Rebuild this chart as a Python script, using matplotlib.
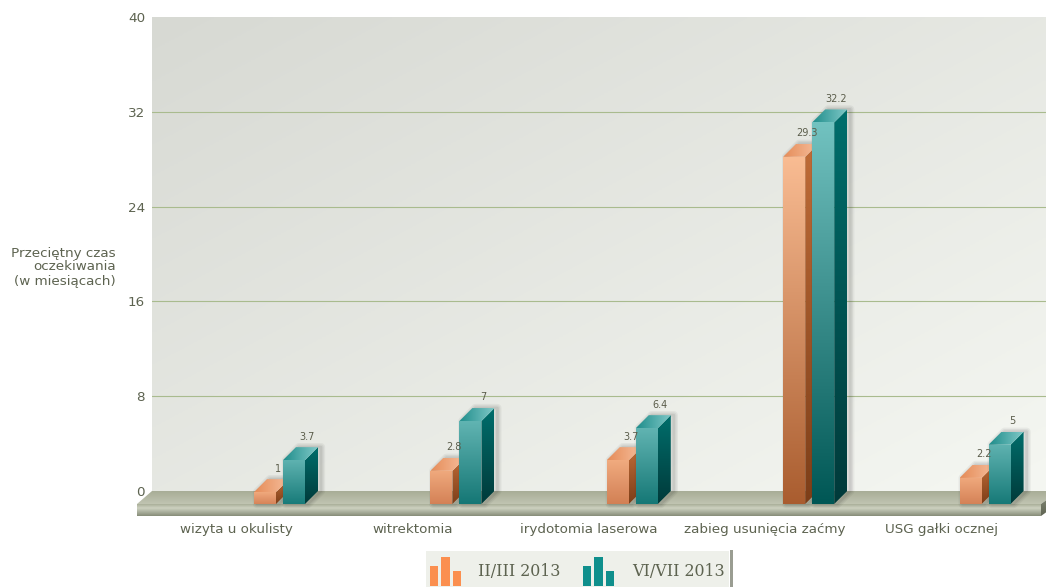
import numpy as np
import matplotlib
matplotlib.use("Agg")
import matplotlib.pyplot as plt
from matplotlib.colors import to_rgb
from matplotlib.legend_handler import HandlerBase
from matplotlib.patches import Polygon, Rectangle

categories = ["wizyta u okulisty", "witrektomia", "irydotomia laserowa",
              "zabieg usunięcia zaćmy", "USG gałki ocznej"]
series_a = [1, 2.8, 3.7, 29.3, 2.2]
series_b = [3.7, 7, 6.4, 32.2, 5]
series_names = ["II/III 2013", "VI/VII 2013"]
y_ticks = [0, 8, 16, 24, 32, 40]
y_title = "Przeciętny czas\noczekiwania\n(w miesiącach)"

W, H = 1046, 587
TEXT = "#5d6350"
LEFT, RIGHT, TOP, BASE = 152, 1046, 17, 491
SLOT = 176.4
PX_Y = (BASE - TOP) / 40.0
PX_X = SLOT
DEPTH_X = 13 / PX_X
DEPTH_Y = 13 / PX_Y
BAR_W = 22 / PX_X
OFFSET_A = 31 / PX_X
OFFSET_B = 60 / PX_X

ORANGE = dict(front_small=("#efa87c", "#d8855a"), front_tall=("#fabe95", "#a5592b"),
              side=("#bf6c38", "#7d3e18"), top=("#e58c58", "#f6bd9b"), legend="#fb8f4f")
TEAL = dict(front_small=("#5cb0ae", "#1b807e"), front_tall=("#72c2c0", "#005755"),
            side=("#006e6c", "#003a3a"), top=("#1f8d8b", "#80c9c8"), legend="#0f8f8c")

fig = plt.figure(figsize=(W / 100, H / 100), dpi=100, facecolor="white")
ax = fig.add_axes([LEFT / W, 1 - BASE / H, (RIGHT - LEFT) / W, (BASE - TOP) / H])
ax.set_autoscale_on(False)
x_min = (LEFT - 236) / PX_X
x_max = (RIGHT - 236) / PX_X
ax.set_xlim(x_min, x_max)
ax.set_ylim(0, 40)
for spine in ax.spines.values():
    spine.set_visible(False)


def lerp(c1, c2, t):
    a, b = np.array(to_rgb(c1)), np.array(to_rgb(c2))
    return a + (b - a) * t


def gradient(xy, c1, c2, zorder, horizontal=False):
    """Fill a polygon in data coordinates with a two-colour linear ramp."""
    xy = np.asarray(xy, dtype=float)
    t = np.linspace(0, 1, 128)
    ramp = np.array([lerp(c1, c2, v) for v in t])
    img = ramp[None, :, :] if horizontal else ramp[:, None, :]
    ext = (xy[:, 0].min(), xy[:, 0].max(), xy[:, 1].min(), xy[:, 1].max())
    im = ax.imshow(img, extent=ext, origin="upper", aspect="auto",
                   interpolation="bilinear", zorder=zorder)
    im.set_clip_path(Polygon(xy, closed=True, transform=ax.transData))
    im.set_clip_box(fig.bbox)
    return im


# Back wall with a diagonal light ramp
u, v = np.meshgrid(np.linspace(0, 1, 200), np.linspace(0, 1, 200))
mix = ((u + v) / 2)[..., None]
wall = to_rgb("#d7d9d3") + (np.array(to_rgb("#f5f7f2")) - np.array(to_rgb("#d7d9d3"))) * mix
ax.imshow(wall, extent=(x_min, x_max, 0, 40), origin="upper", aspect="auto", zorder=0)

ax.set_yticks(y_ticks)
ax.set_xticks(range(len(categories)))
ax.set_xticklabels(categories)
ax.tick_params(axis="y", length=0, pad=5, labelsize=9.7, labelcolor=TEXT)
ax.tick_params(axis="x", length=0, pad=23, labelsize=9.7, labelcolor=TEXT)
ax.yaxis.grid(True, color="#a9bb8e", linewidth=0.8)
ax.set_axisbelow(False)
for value, line in zip(y_ticks, ax.get_ygridlines()):
    line.set_zorder(1)
    line.set_visible(value not in (0, 40))
ax.set_ylabel(y_title, rotation=0, ha="right", va="center", multialignment="right",
              fontsize=9.7, color=TEXT, labelpad=0, linespacing=1.1)
ax.yaxis.set_label_coords((116 - LEFT) / (RIGHT - LEFT), (BASE - 267) / (BASE - TOP))

# Floor: receding top, front slab with a light band, and the right end cap
floor_left = x_min - 15 / PX_X
floor_right = (1041 - 236) / PX_X
slab_h = 12 / PX_Y
slab_mid = -DEPTH_Y - 4 / PX_Y
gradient([(x_min, 0), (x_max + DEPTH_X, 0), (floor_right, -DEPTH_Y), (floor_left, -DEPTH_Y)],
         "#a8ad97", "#c0c4b1", 2)
gradient([(floor_left, -DEPTH_Y), (floor_right, -DEPTH_Y), (floor_right, slab_mid), (floor_left, slab_mid)],
         "#a9ae98", "#cdd1c0", 3)
gradient([(floor_left, slab_mid), (floor_right, slab_mid),
          (floor_right, -DEPTH_Y - slab_h), (floor_left, -DEPTH_Y - slab_h)],
         "#cdd1c0", "#868c78", 3)
gradient([(floor_right, -DEPTH_Y), (x_max + DEPTH_X, 0), (x_max + DEPTH_X, -slab_h),
          (floor_right, -DEPTH_Y - slab_h)],
         "#8b907c", "#5f6453", 3)


def draw_series(values, offset, style, base_z):
    pos = np.arange(len(values)) + offset - DEPTH_X
    t = np.array(values) / max(series_b)
    mids = [lerp(*style["front_tall"], 0.5) for _ in values]
    bars = ax.bar(pos, values, BAR_W, bottom=-DEPTH_Y, align="edge", color=mids,
                  linewidth=0, clip_on=False, zorder=base_z)
    shift = 3 / PX_X
    for rect, h, k in zip(bars, values, t):
        x0, x1 = rect.get_x(), rect.get_x() + rect.get_width()
        y0, y1 = -DEPTH_Y, h - DEPTH_Y
        bx0, bx1 = x0 + DEPTH_X, x1 + DEPTH_X
        by1 = y1 + DEPTH_Y
        # soft shadow falling to the right of the bar
        outline = [(x0 + shift, y0), (x0 + shift, y1), (bx0 + shift, by1),
                   (bx1 + shift, by1), (bx1 + shift, 0), (x1 + shift, y0)]
        for lw, alpha in ((6, 0.05), (4, 0.06), (2, 0.08)):
            ax.add_patch(Polygon(outline, closed=True, facecolor="none",
                                 edgecolor=(0.1, 0.1, 0.1, alpha), linewidth=lw,
                                 joinstyle="round", clip_on=False, zorder=base_z))
        ctop = lerp(style["front_small"][0], style["front_tall"][0], k)
        cbot = lerp(style["front_small"][1], style["front_tall"][1], k)
        gradient([(x0, y0), (x0, y1), (x1, y1), (x1, y0)], ctop, cbot, base_z + 0.2)
        gradient([(x1, y0), (x1, y1), (bx1, by1), (bx1, 0)], *style["side"], base_z + 0.2)
        gradient([(x0, y1), (bx0, by1), (bx1, by1), (x1, y1)], *style["top"], base_z + 0.2,
                 horizontal=True)
        ax.annotate(f"{h:g}", ((bx0 + bx1) / 2, by1), xytext=(0, 4), textcoords="offset points",
                    ha="center", va="bottom", fontsize=7, color="#5a5c4a",
                    annotation_clip=False, zorder=base_z + 5)


draw_series(series_a, OFFSET_A, ORANGE, 5)
draw_series(series_b, OFFSET_B, TEAL, 6)


class TriBarHandler(HandlerBase):
    """Legend key made of three small upright bars."""

    def create_artists(self, legend, orig_handle, xdescent, ydescent, width, height, fontsize, trans):
        k = 0.72
        base = -10 * k
        out = []
        for x, w, h in ((-1, 8, 20), (10, 9, 29), (22, 8, 15)):
            r = Rectangle((x * k, base), w * k, h * k, facecolor=orig_handle.get_facecolor(),
                          edgecolor="none", transform=trans)
            out.append(r)
        return out


handles = [Rectangle((0, 0), 1, 1, facecolor=ORANGE["legend"]),
           Rectangle((0, 0), 1, 1, facecolor=TEAL["legend"])]
leg = fig.legend(handles, series_names, handler_map={Rectangle: TriBarHandler()},
                 ncols=2, loc="lower left", bbox_to_anchor=(426 / W, -4 / H),
                 prop={"family": "DejaVu Serif", "size": 11.4}, labelcolor="#5d6350",
                 frameon=True, fancybox=False, facecolor="#eef0ea", edgecolor="none",
                 framealpha=1, borderaxespad=0, borderpad=0.3, handlelength=1.9,
                 handletextpad=1.1, columnspacing=1.5, handleheight=2.6)
leg.set_zorder(3)
# thin grey edge on the right of the legend panel
fig.add_artist(Rectangle((730 / W, 0), 3 / W, 37 / H, transform=fig.transFigure,
                         facecolor="#9a9d92", edgecolor="none", zorder=4))

fig.savefig("out.png", dpi=100)
